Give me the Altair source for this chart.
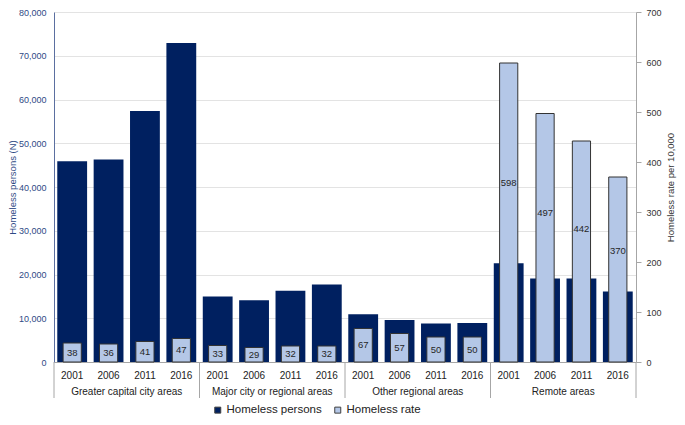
import altair as alt
import pandas as pd

groups = ["Greater capital city areas", "Major city or regional areas",
          "Other regional areas", "Remote areas"]
years = ["2001", "2006", "2011", "2016"]
persons = [45900, 46300, 57400, 72900,
           15000, 14100, 16300, 17700,
           10900, 9600, 8800, 8900,
           22600, 19100, 19100, 16100]
rates = [38, 36, 41, 47,
         33, 29, 32, 32,
         67, 57, 50, 50,
         598, 497, 442, 370]
series = ["Homeless persons", "Homeless rate"]

rows = []
for gi, g in enumerate(groups):
    for yi, y in enumerate(years):
        i = gi * 4 + yi
        rows.append({"key": f"{g}|{y}", "group": g, "year": y,
                     "persons": persons[i], "rate": rates[i],
                     "s1": series[0], "s2": series[1]})
df = pd.DataFrame(rows)
keys = list(df["key"])

gdf = pd.DataFrame({"key": [f"{g}|2006" for g in groups], "group": groups})
sdf = pd.DataFrame({"key": [f"{g}|2001" for g in groups]})
edf = pd.DataFrame({"key": [f"{groups[-1]}|2016"]})

W, H = 582, 350
NAVY = "#002060"
LIGHT = "#B4C7E7"
FONT = "Liberation Sans"

xscale = alt.Scale(domain=keys, paddingInner=0, paddingOuter=0)
xaxis = alt.Axis(title=None, labelExpr="split(datum.label, '|')[1]", labelAngle=0,
                 ticks=False, tickSize=0, labelPadding=8, labelFontSize=10,
                 labelColor="#222222", domainColor="#A6A6A6", grid=False)


def xenc(bp=None):
    if bp is None:
        return alt.X("key:N", scale=xscale, axis=xaxis)
    return alt.X("key:N", scale=xscale, axis=xaxis, bandPosition=bp)


legend = alt.Legend(title=None, orient="none", legendX=158, legendY=392,
                    direction="horizontal", symbolType="square", symbolSize=36,
                    labelFontSize=11.5, labelColor="#222222", labelFont=FONT,
                    symbolStrokeColor="#404040", symbolStrokeWidth=1,
                    columnPadding=10, labelOffset=3, labelLimit=0)
cscale = alt.Scale(domain=series, range=[NAVY, LIGHT])

left_axis = alt.Axis(values=list(range(0, 80001, 10000)),
                     labelExpr="format(datum.value, ',.0f')",
                     title="Homeless persons (N)", titleFontSize=9.5,
                     titleFontWeight="normal", titleColor="#2F4A85",
                     titleAngle=270, titleX=-37, titleY=H / 2,
                     titleAlign="center", titleBaseline="bottom",
                     labelFontSize=9, labelColor="#2F4A85", labelPadding=8,
                     ticks=False, domainColor="#5B6FA0", grid=True,
                     gridColor="#E3E3E3")

right_axis = alt.Axis(orient="right", values=list(range(0, 701, 100)),
                      title="Homeless rate per 10,000", titleFontSize=9.5,
                      titleFontWeight="normal", titleColor="#333333",
                      titleAngle=270, titleX=39, titleY=H / 2,
                      titleAlign="center", titleBaseline="bottom",
                      labelFontSize=9, labelColor="#333333", labelPadding=5,
                      tickSize=5, tickColor="#A6A6A6", domainColor="#A6A6A6",
                      grid=False)

rscale = alt.Scale(domain=[0, 700], nice=False)

dark = alt.Chart(df).mark_bar(width=alt.RelativeBandSize(0.82)).encode(
    x=xenc(),
    y=alt.Y("persons:Q", scale=alt.Scale(domain=[0, 80000], nice=False), axis=left_axis),
    color=alt.Color("s1:N", scale=cscale, legend=legend),
)

light = alt.Chart(df).mark_bar(width=alt.RelativeBandSize(0.5), stroke="#333333",
                               strokeWidth=1).encode(
    x=xenc(),
    y=alt.Y("rate:Q", scale=rscale, axis=right_axis),
    color=alt.Color("s2:N", scale=cscale, legend=legend),
)

labels = alt.Chart(df).transform_calculate(
    ly="datum.rate > 100 ? datum.rate * 0.6 : datum.rate / 2"
).mark_text(fontSize=9.5, color="#262626", font=FONT, baseline="middle").encode(
    x=xenc(),
    y=alt.Y("ly:Q", scale=rscale, axis=right_axis),
    text="rate:Q",
)

glabels = alt.Chart(gdf).mark_text(fontSize=10, color="#222222", font=FONT,
                                   baseline="middle").encode(
    x=xenc(1), y=alt.value(H + 30), text="group:N")

seps = alt.Chart(sdf).mark_rule(color="#A6A6A6", strokeWidth=1).encode(
    x=xenc(0), y=alt.value(H), y2=alt.value(H + 36))
endsep = alt.Chart(edf).mark_rule(color="#A6A6A6", strokeWidth=1).encode(
    x=xenc(1), y=alt.value(H), y2=alt.value(H + 36))

chart = alt.layer(
    dark, alt.layer(light, labels), glabels, seps, endsep
).resolve_scale(y="independent").properties(
    width=W, height=H,
    autosize=alt.AutoSizeParams(type="none"),
    padding={"left": 46, "top": 4, "right": 41, "bottom": 55},
).configure(font=FONT).configure_view(stroke=None)

chart.save("out.html", embed_options={"renderer": "svg", "actions": False})
